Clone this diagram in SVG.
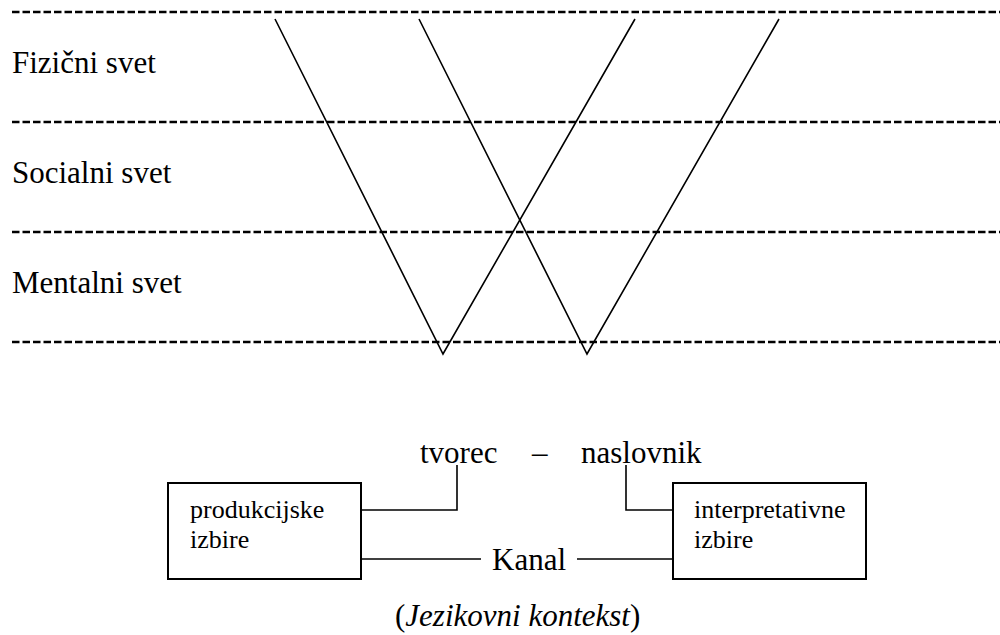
<svg xmlns="http://www.w3.org/2000/svg" width="1000" height="635" viewBox="0 0 1000 635">
<style>
.dash{stroke:#000;stroke-width:2.6;stroke-dasharray:7.5 3;fill:none}
.ln{stroke:#000;stroke-width:1.6;fill:none}
.box{stroke:#000;stroke-width:2;fill:#fff}
.t{font-family:"Liberation Serif","Times New Roman",serif;fill:#000}
.big{font-size:31px}
.small{font-size:26px}
</style>
<rect width="1000" height="635" fill="#fff"/>
<g id="levels">
<line class="dash" x1="12" y1="12" x2="1000" y2="12"/>
<line class="dash" x1="12" y1="122" x2="1000" y2="122"/>
<line class="dash" x1="12" y1="232" x2="1000" y2="232"/>
<line class="dash" x1="12" y1="342" x2="1000" y2="342"/>
<text class="t big" x="12" y="73">Fizični svet</text>
<text class="t big" x="12" y="183">Socialni svet</text>
<text class="t big" x="12" y="293">Mentalni svet</text>
</g>
<g id="vshapes">
<polyline class="ln" points="275,19 443,354 635,19"/>
<polyline class="ln" points="419,19 587,354 779,19"/>
</g>
<g id="participants">
<text class="t big" x="420" y="463">tvorec</text>
<text class="t big" x="532" y="463">–</text>
<text class="t big" x="581" y="463">naslovnik</text>
</g>
<g id="box-produkcijske">
<rect class="box" x="168" y="483" width="193" height="96"/>
<text class="t small" x="190" y="518">produkcijske</text>
<text class="t small" x="190" y="548">izbire</text>
</g>
<g id="box-interpretativne">
<rect class="box" x="673" y="483" width="193" height="96"/>
<text class="t small" x="694" y="518">interpretativne</text>
<text class="t small" x="694" y="548">izbire</text>
</g>
<g id="kanal">
<text class="t big" x="492" y="570">Kanal</text>
</g>
<g id="connectors">
<polyline class="ln" points="361,510 457,510 457,465"/>
<polyline class="ln" points="673,510 626,510 626,465"/>
<line class="ln" x1="361" y1="559" x2="481" y2="559"/>
<line class="ln" x1="577" y1="559" x2="673" y2="559"/>
</g>
<g id="caption">
<text class="t big" x="395" y="626">(<tspan font-style="italic">Jezikovni kontekst</tspan>)</text>
</g>
</svg>
